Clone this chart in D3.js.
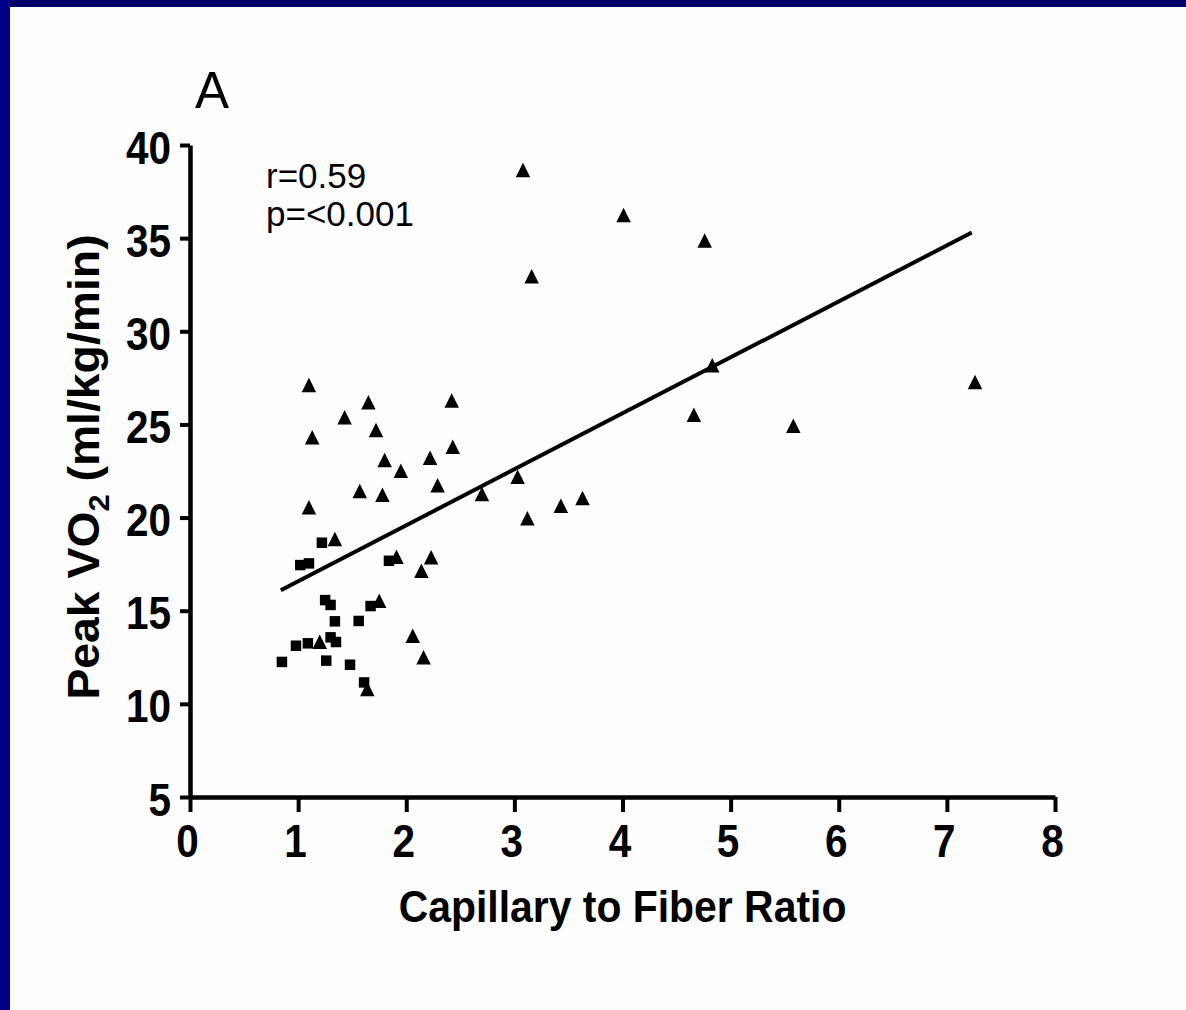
<!DOCTYPE html>
<html>
<head>
<meta charset="utf-8">
<script src="https://cdn.jsdelivr.net/npm/d3@7"></script>
<style>
  html, body { margin: 0; padding: 0; background: #fdfdfd; }
  svg { display: block; }
  text { font-family: "Liberation Sans", Arial, Helvetica, sans-serif; fill: #000; }
</style>
</head>
<body>
<svg id="chart"></svg>
<script>
// Capillary to fiber ratio vs peak VO2 — panel A
const xTicks = [0, 1, 2, 3, 4, 5, 6, 7, 8];
const yTicks = [5, 10, 15, 20, 25, 30, 35, 40];

// square markers (group 1)
const squareX = [1.22, 1.02, 1.10, 1.84, 1.25, 1.30, 1.34, 1.56, 1.67, 0.98, 1.09, 1.30, 1.35, 0.85, 1.26, 1.48, 1.61];
const squareY = [18.65, 17.45, 17.54, 17.68, 15.57, 15.31, 14.43, 14.45, 15.25, 13.12, 13.25, 13.57, 13.32, 12.25, 12.32, 12.10, 11.15];

// triangle markers (group 2)
const triX = [1.34, 1.91, 2.23, 2.14, 1.75, 1.20, 2.06, 2.16, 1.64, 1.10, 1.65, 2.42, 1.43, 1.72, 1.13, 2.43,
              1.80, 2.22, 1.95, 2.29, 1.57, 1.78, 2.70, 1.10, 3.03, 3.63, 3.43, 3.12, 3.08, 4.01, 4.76, 3.16,
              4.83, 7.26, 4.66, 5.58];
const triY = [18.85, 17.90, 17.87, 17.15, 15.54, 13.34, 13.66, 12.50, 10.80, 27.11, 26.19, 26.29, 25.38, 24.70, 24.31, 23.80,
              23.09, 23.21, 22.51, 21.73, 21.43, 21.23, 21.26, 20.55, 22.19, 21.05, 20.64, 19.97, 38.66, 36.24, 34.88, 32.96,
              28.18, 27.28, 25.52, 24.93];

// regression line end points
const fitX = [0.84, 7.23];
const fitY = [16.1, 35.3];

const W = 1186, H = 1010;
const svg = d3.select("#chart").attr("width", W).attr("height", H);

svg.append("rect").attr("width", W).attr("height", H).attr("fill", "#fdfdfd");
// slide frame (dark blue at top and left)
svg.append("rect").attr("x", 0).attr("y", 0).attr("width", W).attr("height", 7).attr("fill", "#000066");
svg.append("rect").attr("x", 0).attr("y", 0).attr("width", 10).attr("height", H).attr("fill", "#000088");

const x = d3.scaleLinear().domain([0, 8]).range([190, 1055]);
const y = d3.scaleLinear().domain([5, 40]).range([797, 145]);

const squat = 0.88; // labels look horizontally condensed

// x axis
const gx = svg.append("g").attr("transform", `translate(0,${y(5)})`)
  .call(d3.axisBottom(x).tickValues(xTicks).tickSize(15).tickSizeOuter(0).tickFormat(d3.format("d")));
gx.select(".domain").attr("stroke", "#000").attr("stroke-width", 4.5);
gx.selectAll(".tick line").attr("stroke", "#000").attr("stroke-width", 4);
gx.selectAll(".tick text")
  .attr("y", 0).attr("dy", null)
  .attr("transform", `translate(-3,60) scale(${squat},1)`)
  .style("font-size", "46px").style("font-weight", "bold");

// y axis
const gy = svg.append("g").attr("transform", `translate(${x(0)},0)`)
  .call(d3.axisLeft(y).tickValues(yTicks).tickSize(10).tickSizeOuter(0));
gy.select(".domain").attr("stroke", "#000").attr("stroke-width", 4.5);
gy.selectAll(".tick line").attr("stroke", "#000").attr("stroke-width", 4);
gy.selectAll(".tick text")
  .attr("x", 0).attr("dy", null)
  .attr("transform", `translate(-19,18) scale(${squat},1)`)
  .style("font-size", "46px").style("font-weight", "bold");

// axis titles
svg.append("text")
  .attr("transform", `translate(${(x(0) + x(8)) / 2},${922}) scale(0.93,1)`)
  .attr("text-anchor", "middle")
  .style("font-size", "44px").style("font-weight", "bold")
  .text("Capillary to Fiber Ratio");

const yt = svg.append("text")
  .attr("transform", `translate(99,${467}) rotate(-90) scale(1.03,1)`)
  .attr("text-anchor", "middle")
  .style("font-size", "45px").style("font-weight", "bold");
yt.append("tspan").text("Peak VO");
yt.append("tspan").attr("dy", 10).style("font-size", "30px").text("2");
yt.append("tspan").attr("dy", -10).text(" (ml/kg/min)");

// panel letter and statistics
svg.append("text").attr("x", 195).attr("y", 108).style("font-size", "51px").text("A");
svg.append("text").attr("x", 266).attr("y", 188).style("font-size", "35px").text("r=0.59");
svg.append("text").attr("x", 266).attr("y", 226).style("font-size", "35px").text("p=<0.001");

// regression line
svg.append("path")
  .datum(d3.zip(fitX, fitY))
  .attr("d", d3.line().x(d => x(d[0])).y(d => y(d[1])))
  .attr("fill", "none").attr("stroke", "#000").attr("stroke-width", 4);

// markers
const triangle = {
  draw(ctx, size) {
    const s = Math.sqrt(size);
    ctx.moveTo(0, -s / 2);
    ctx.lineTo(s / 2, s / 2);
    ctx.lineTo(-s / 2, s / 2);
    ctx.closePath();
  }
};

svg.append("g").selectAll("path")
  .data(d3.zip(squareX, squareY))
  .join("path")
  .attr("transform", d => `translate(${x(d[0])},${y(d[1])})`)
  .attr("d", d3.symbol().type(d3.symbolSquare).size(110))
  .attr("fill", "#000");

svg.append("g").selectAll("path")
  .data(d3.zip(triX, triY))
  .join("path")
  .attr("transform", d => `translate(${x(d[0])},${y(d[1])})`)
  .attr("d", d3.symbol().type(triangle).size(14.5 * 14.5))
  .attr("fill", "#000");
</script>
</body>
</html>
